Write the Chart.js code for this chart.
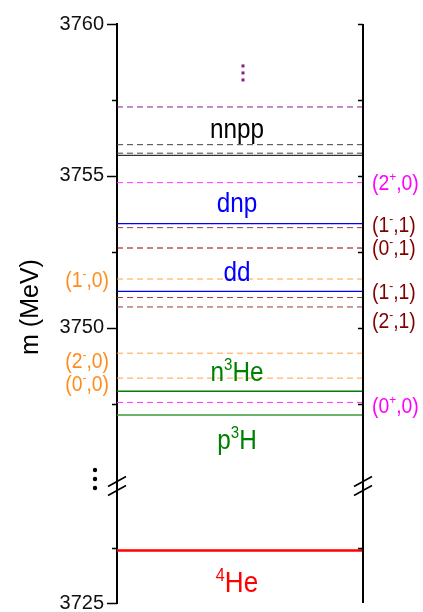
<!DOCTYPE html>
<html>
<head>
<meta charset="utf-8">
<script src="https://cdn.jsdelivr.net/npm/chart.js@4.4.1/dist/chart.umd.min.js"></script>
<style>
  html, body { margin: 0; padding: 0; background: #ffffff; }
  #wrap { width: 423px; height: 612px; }
</style>
</head>
<body>
<div id="wrap"><canvas id="c" width="423" height="612"></canvas></div>
<script>
// ---------------- DATA ----------------
// Tick labels (MeV)
const majorTicks = [3725, 3750, 3755, 3760];
const minorTicks = [3727.5, 3747.5, 3752.5, 3757.5];

// Thresholds (MeV)
const thresholdNames  = ['nnpp', 'dnp', 'dd', 'n^3He', 'p^3H', '^4He'];
const thresholdMasses = [3755.68, 3753.43, 3751.20, 3747.92, 3747.14, 3727.38];

// 4He excited states (MeV) and their (J^pi, T) labels
const stateMasses = [3757.27, 3756.03, 3755.75, 3754.78, 3753.30, 3752.63,
                     3751.61, 3751.00, 3750.69, 3749.17, 3748.35, 3747.55];
const stateLabels = ['', '', '', '(2^+,0)', '(1^-,1)', '(0^-,1)',
                     '(1^-,0)', '(1^-,1)', '(2^-,1)', '(2^-,0)', '(0^-,0)', '(0^+,0)'];

// Axis ranges of the broken axis (MeV)
const upperRange = [3744.8, 3760];
const lowerRange = [3725, 3730.3];

// ---------------- STYLE / LAYOUT ----------------
const FONT = "'Liberation Sans', Arial, sans-serif";
const thresholdColors = ['#000000', '#0000ff', '#0000ff', '#008000', '#3a9a3a', '#ff0000'];
const thresholdTextColors = ['#000000', '#0000ff', '#0000ff', '#008000', '#008000', '#ff0000'];
const thresholdWidths = [1, 1.3, 1.3, 1.5, 1.5, 2.5];
const thresholdLabelAt = [3756.25, 3753.82, 3751.55, 3748.26, 3746.02, 3725.49];
const thresholdLabelSize = [27, 27, 27, 27, 27, 29];

const stateColors = ['#8b1a8b', '#444444', '#444444', '#ff33ff', '#a03a3a', '#8b0000',
                     '#ffa040', '#a03a3a', '#a03a3a', '#ffa040', '#ffa040', '#ff33ff'];
const stateTextColors = ['', '', '', '#ff00ff', '#800000', '#800000',
                         '#ff8c1a', '#800000', '#800000', '#ff8c1a', '#ff8c1a', '#ff00ff'];
const stateLabelSide = ['', '', '', 'R', 'R', 'R', 'L', 'R', 'R', 'L', 'L', 'R'];
const stateLabelAt = [0, 0, 0, 3754.74, 3753.36, 3752.60, 3751.55, 3751.15, 3750.20, 3748.88, 3748.13, 3747.40];

function axisFor(m) { return m >= upperRange[0] ? 'yTop' : 'yBot'; }

const datasets = [];
stateMasses.forEach((m, i) => {
  datasets.push({
    type: 'line', yAxisID: axisFor(m), xAxisID: 'x',
    data: [{x: 0, y: m}, {x: 1, y: m}],
    borderColor: stateColors[i], borderWidth: 1, borderDash: [6, 4],
    pointRadius: 0, fill: false
  });
});
thresholdMasses.forEach((m, i) => {
  datasets.push({
    type: 'line', yAxisID: axisFor(m), xAxisID: 'x',
    data: [{x: 0, y: m}, {x: 1, y: m}],
    borderColor: thresholdColors[i], borderWidth: thresholdWidths[i],
    pointRadius: 0, fill: false
  });
});

function parseRich(s) {
  const parts = [];
  let buf = '';
  for (let i = 0; i < s.length; i++) {
    if (s[i] === '^' && i + 1 < s.length) {
      if (buf) { parts.push([buf, false]); buf = ''; }
      parts.push([s[i + 1], true]);
      i++;
    } else buf += s[i];
  }
  if (buf) parts.push([buf, false]);
  return parts;
}
function drawRich(ctx, str, x, y, align, size, color, sx) {
  const parts = parseRich(str);
  const sup = size * 0.62;
  let w = 0;
  const ws = parts.map(p => {
    ctx.font = (p[1] ? sup : size) + 'px ' + FONT;
    const ww = ctx.measureText(p[0]).width;
    w += ww; return ww;
  });
  const W = w * sx;
  const x0 = align === 'center' ? x - W / 2 : (align === 'right' ? x - W : x);
  ctx.save();
  ctx.translate(x0, y);
  ctx.scale(sx, 1);
  ctx.textAlign = 'left';
  ctx.textBaseline = 'alphabetic';
  ctx.fillStyle = color;
  let cx = 0;
  parts.forEach((p, i) => {
    ctx.font = (p[1] ? sup : size) + 'px ' + FONT;
    ctx.fillText(p[0], cx, p[1] ? -size * 0.40 : 0);
    cx += ws[i];
  });
  ctx.restore();
}

const decorPlugin = {
  id: 'decor',
  afterDraw(chart) {
    const ctx = chart.ctx;
    const area = chart.chartArea;
    const yTop = chart.scales.yTop, yBot = chart.scales.yBot;
    const px = m => (m >= upperRange[0] ? yTop : yBot).getPixelForValue(m);
    const L = area.left, R = area.right;
    ctx.save();
    // right axis line
    ctx.strokeStyle = '#000'; ctx.lineWidth = 2;
    ctx.beginPath(); ctx.moveTo(R, area.top); ctx.lineTo(R, area.bottom); ctx.stroke();
    // ticks
    ctx.lineWidth = 1.5;
    majorTicks.forEach(v => {
      const y = Math.round(px(v)) + 0.5;
      ctx.beginPath(); ctx.moveTo(L - 10, y); ctx.lineTo(L, y); ctx.stroke();
      if (v !== lowerRange[0]) { ctx.beginPath(); ctx.moveTo(R - 5, y); ctx.lineTo(R, y); ctx.stroke(); }
    });
    minorTicks.forEach(v => {
      const y = Math.round(px(v)) + 0.5;
      ctx.beginPath(); ctx.moveTo(L - 5, y); ctx.lineTo(L, y); ctx.stroke();
      ctx.beginPath(); ctx.moveTo(R - 5, y); ctx.lineTo(R, y); ctx.stroke();
    });
    // axis break marks
    const yb = yTop.bottom;
    ctx.lineWidth = 1.6;
    [L, R].forEach(xa => {
      [-4.5, 4.5].forEach(d => {
        ctx.beginPath();
        ctx.moveTo(xa - 9, yb + d + 5);
        ctx.lineTo(xa + 9, yb + d - 5);
        ctx.stroke();
      });
    });
    // vertical ellipsis dots
    const cxMid = (L + R) / 2;
    ctx.fillStyle = '#8b1a8b';
    const yd = yTop.getPixelForValue(3758.39);
    [-7, 0, 7].forEach(d => { ctx.fillRect(cxMid + 1.5, yd + d - 1.5, 3, 3); });
    ctx.fillStyle = '#000';
    const yd2 = yTop.getPixelForValue(3745.03);
    [-9, 0, 9].forEach(d => { ctx.beginPath(); ctx.arc(L - 22, yd2 + d, 2.2, 0, Math.PI * 2); ctx.fill(); });
    // threshold labels
    thresholdNames.forEach((n, i) => {
      drawRich(ctx, n, cxMid - 3, px(thresholdLabelAt[i]), 'center', thresholdLabelSize[i], thresholdTextColors[i], 0.9);
    });
    // state labels
    const qs = 22;
    stateLabels.forEach((s, i) => {
      if (!s) return;
      const y = px(stateLabelAt[i]) + qs * 0.27;
      if (stateLabelSide[i] === 'R') drawRich(ctx, s, R + 9, y, 'left', qs, stateTextColors[i], 0.88);
      else drawRich(ctx, s, L - 8, y, 'right', qs, stateTextColors[i], 0.88);
    });
    // axis title
    ctx.save();
    ctx.translate(31, 307);
    ctx.rotate(-Math.PI / 2);
    ctx.font = '25px ' + FONT;
    ctx.fillStyle = '#000';
    ctx.textAlign = 'center';
    ctx.textBaseline = 'middle';
    ctx.fillText('m (MeV)', 0, 0);
    ctx.restore();
    ctx.restore();
  }
};

function yScale(range, weight) {
  return {
    type: 'linear', position: 'left', stack: 'mass', stackWeight: weight,
    min: range[0], max: range[1],
    grid: { display: true, drawOnChartArea: false, drawTicks: true, tickLength: 13, tickColor: 'rgba(0,0,0,0)' },
    border: { display: true, color: '#000', width: 2 },
    ticks: {
      padding: 0, color: '#111',
      font: { family: FONT, size: 20, lineHeight: 0.8 },
      callback: v => (majorTicks.includes(v) ? String(v) : '')
    },
    afterBuildTicks: s => {
      s.ticks = majorTicks.filter(v => v >= s.min && v <= s.max).map(v => ({ value: v }));
    },
    afterFit: s => { s.width = 117; }
  };
}

new Chart(document.getElementById('c'), {
  type: 'line',
  data: { datasets },
  options: {
    responsive: false, animation: false, devicePixelRatio: 1,
    layout: { padding: { left: 0, right: 60, top: 24, bottom: 9 } },
    plugins: { legend: { display: false }, tooltip: { enabled: false } },
    scales: {
      x: { type: 'linear', min: 0, max: 1, display: false },
      yBot: yScale(lowerRange, 117),
      yTop: yScale(upperRange, 462)
    }
  },
  plugins: [decorPlugin]
});
</script>
</body>
</html>
